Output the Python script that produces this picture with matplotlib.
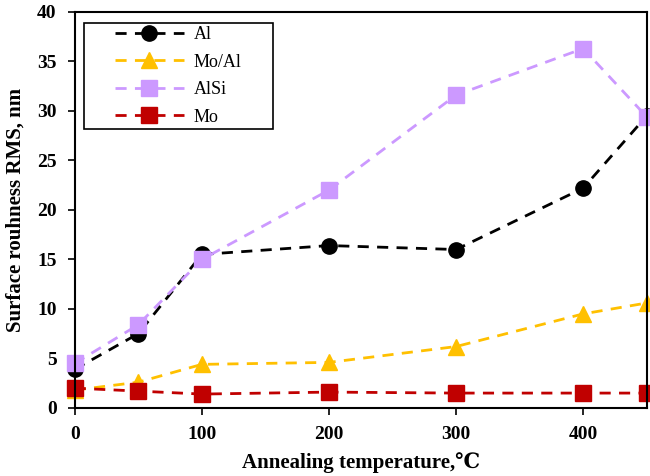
import matplotlib
matplotlib.use("Agg")
from matplotlib import pyplot as plt
from matplotlib.patches import Rectangle

plt.rcParams['font.family'] = ['Liberation Serif', 'DejaVu Serif']
plt.rcParams['font.weight'] = 'bold'

temps = [0, 50, 100, 200, 300, 400, 450]
al = [3.9, 7.5, 15.5, 16.4, 16.0, 22.2, 29.5]
mo_al = [1.8, 2.6, 4.4, 4.6, 6.2, 9.5, 10.6]
alsi = [4.5, 8.4, 15.0, 22.0, 31.6, 36.3, 29.4]
mo = [2.0, 1.7, 1.4, 1.6, 1.5, 1.5, 1.5]

series = [
    ("Al", al, "black", "o"),
    ("Mo/Al", mo_al, "#FFC000", "^"),
    ("AlSi", alsi, "#CC99FF", "s"),
    ("Mo", mo, "#C00000", "s"),
]

fig = plt.figure(figsize=(6.5, 4.76), dpi=100)
ax = fig.add_axes([0.115, 0.143, 0.88, 0.832])

for name, vals, col, mk in series:
    ax.plot(temps, vals, color=col, marker=mk, markersize=11, linewidth=2,
            dashes=(4, 3), label=name, clip_on=False)

ax.set_xlim(0, 450)
ax.set_ylim(0, 40)
ax.set_xticks([0, 100, 200, 300, 400])
ax.set_yticks(range(0, 41, 5))
ax.tick_params(direction='out', length=5, width=1.2, labelsize=14, pad=8)
for s in ax.spines.values():
    s.set_linewidth(1.5)

ax.set_xlabel("Annealing temperature,\u2103", fontsize=15, fontweight='bold')
ax.xaxis.set_label_coords(0.5, -0.112)
ax.set_ylabel("Surface rouhness RMS, nm", fontsize=15, fontweight='bold')
ax.yaxis.set_label_coords(-0.086, 0.5)

# legend without its own frame, box drawn by hand like the Excel one
leg = ax.legend(loc='center left', bbox_to_anchor=(115 / 650, 1 - 76 / 476),
                bbox_transform=fig.transFigure, fontsize=13, frameon=False,
                handlelength=3.8, borderpad=0, labelspacing=0.58,
                handletextpad=0.55, borderaxespad=0)
for t in leg.get_texts():
    t.set_fontweight('normal')
fig.patches.append(Rectangle((84 / 650, 1 - 129 / 476), 189 / 650, 106 / 476,
                             transform=fig.transFigure, fill=False,
                             edgecolor='black', linewidth=1.2, zorder=5))

plt.savefig("out.png", dpi=100)
